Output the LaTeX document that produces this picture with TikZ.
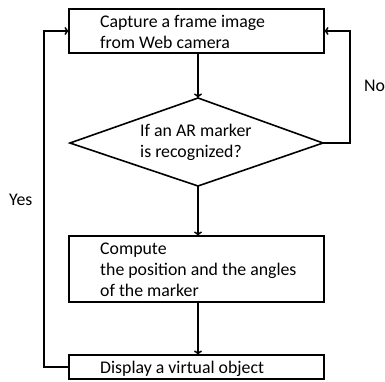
\documentclass[tikz,border=0pt]{standalone}
\usepackage{fontspec}
\setmainfont{Carlito}
\usetikzlibrary{arrows.meta}
\begin{document}
\begin{tikzpicture}[x=1pt,y=-1pt,
  box/.style={draw,line width=1.6pt},
  txt/.style={anchor=base west,inner sep=0pt,align=left,font=\fontsize{17.8}{21}\selectfont},
  flow/.style={line width=1.5pt,-{To[length=4.5pt,width=8pt]}},
  lbl/.style={anchor=base west,inner sep=0pt,font=\fontsize{17.8}{21}\selectfont}]
\useasboundingbox (0,0) rectangle (385,382);
% corner points of the shapes
\coordinate (capNW) at (69,9);   \coordinate (capSE) at (324,53);
\coordinate (compNW) at (69,236); \coordinate (compSE) at (324,302);
\coordinate (dispNW) at (69,355); \coordinate (dispSE) at (324,379);
\coordinate (dT) at (198,98);
\coordinate (dB) at (198,186);
\coordinate (dL) at (70,143);
\coordinate (dR) at (323,143);
% shapes
\draw[box] (capNW) rectangle (capSE);
\draw[box] (dT) -- (dR) -- (dB) -- (dL) -- cycle;
\draw[box] (compNW) rectangle (compSE);
\draw[box] (dispNW) rectangle (dispSE);
% texts (anchored at the baseline of their last line)
\node[txt] (capt) at (100,49) {Capture a frame image\\from Web camera};
\node[txt] (dect) at (140,158) {If an AR marker\\is recognized?};
\node[txt] (compt) at (100,296) {Compute\\the position and the angles\\of the marker};
\node[txt] (dispt) at (100,373) {Display a virtual object};
\node[lbl] (no) at (364,92) {No};
\node[lbl] (yes) at (9,205) {Yes};
% connectors
\coordinate (capB) at (198,53);
\coordinate (capL) at (69,31);
\coordinate (capR) at (324,31);
\coordinate (compT) at (198,236);
\coordinate (compB) at (198,302);
\coordinate (dispT) at (198,355);
\coordinate (dispL) at (69,367);
\draw[flow] (capB) -- (dT);
\draw[flow] (dB) -- (compT);
\draw[flow] (compB) -- (dispT);
\draw[flow] (dR) -- (350,143) -- (350,31) -- (capR);
\draw[flow] (dispL) -- (44,367) -- (44,31) -- (capL);
\end{tikzpicture}
\end{document}
